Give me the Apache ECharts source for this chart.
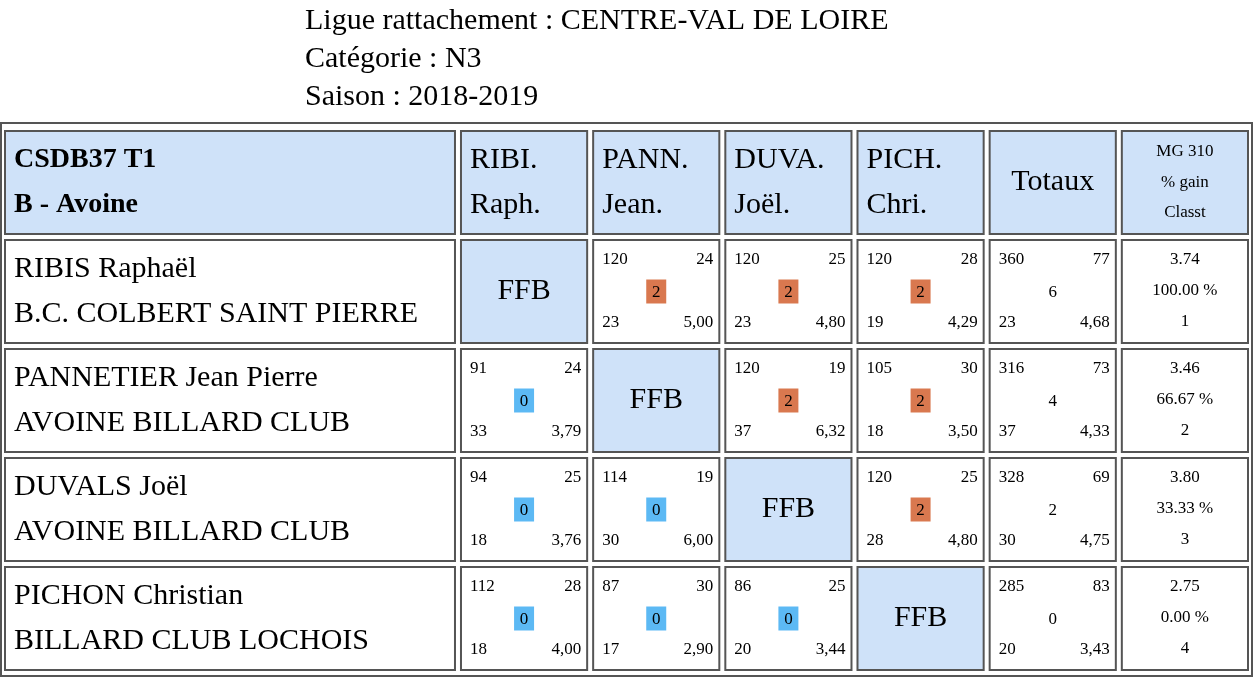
<!DOCTYPE html>
<html><head><meta charset="utf-8">
<script src="https://cdn.jsdelivr.net/npm/echarts@6/dist/echarts.min.js"></script>
<style>html,body{margin:0;background:#fff}#c{width:1253px;height:677px}</style>
</head><body><div id="c"></div>
<script>
const titleLines = ["Ligue rattachement : CENTRE-VAL DE LOIRE","Catégorie : N3","Saison : 2018-2019"];
const teamHeader = ["CSDB37 T1","B - Avoine"];
const abbrTop = ["RIBI.","PANN.","DUVA.","PICH."];
const abbrBottom = ["Raph.","Jean.","Joël.","Chri."];
const players = ["RIBIS Raphaël","PANNETIER Jean Pierre","DUVALS Joël","PICHON Christian"];
const clubs = ["B.C. COLBERT SAINT PIERRE","AVOINE BILLARD CLUB","AVOINE BILLARD CLUB","BILLARD CLUB LOCHOIS"];
// [points, innings, result, best series, average] ; null = FFB
const matches = [
 [null,[120,24,2,23,"5,00"],[120,25,2,23,"4,80"],[120,28,2,19,"4,29"]],
 [[91,24,0,33,"3,79"],null,[120,19,2,37,"6,32"],[105,30,2,18,"3,50"]],
 [[94,25,0,18,"3,76"],[114,19,0,30,"6,00"],null,[120,25,2,28,"4,80"]],
 [[112,28,0,18,"4,00"],[87,30,0,17,"2,90"],[86,25,0,20,"3,44"],null]
];
const totals = [[360,77,6,23,"4,68"],[316,73,4,37,"4,33"],[328,69,2,30,"4,75"],[285,83,0,20,"3,43"]];
const mgValues = ["3.74","3.46","3.80","2.75"];
const gainPct = ["100.00 %","66.67 %","33.33 %","0.00 %"];
const ranks = ["1","2","3","4"];
const mgHeader = ["MG 310","% gain","Classt"];

const colStart=[0,3.45,4.45,5.45,6.45,7.45,8.45], colEnd=[3.45,4.45,5.45,6.45,7.45,8.45,9.45];
const cells=[];
for(let r=0;r<5;r++)for(let c=0;c<7;c++)cells.push([colStart[c],colEnd[c],r,r+1,c]);
const F='"Liberation Serif","DejaVu Serif",serif';
const HBG='#cfe2f9', BOR='#555';
function txt(x,y,t,size,align,bold){return {type:'text',style:{x:x,y:y,text:String(t),fontFamily:F,fontSize:size,fontWeight:bold?'bold':'normal',fill:'#000',align:align||'left',verticalAlign:'middle'}};}
const B=32,S=17;
function renderItem(params,api){
  const p0=api.coord([api.value(0),api.value(2)]), p1=api.coord([api.value(1),api.value(3)]);
  const c=api.value(4), r=api.value(2);
  const x=p0[0]+3,y=p0[1]+3,w=p1[0]-p0[0]-6,h=p1[1]-p0[1]-6;
  const cx=x+w/2, cy=y+h/2;
  const ch=[];
  let bg='#fff';
  if(r===0){ bg=HBG;
    if(c===0){ch.push(txt(x+9,y+29,teamHeader[0],B-4,'left',true),txt(x+9,y+74,teamHeader[1],B-4,'left',true));}
    else if(c<=4){ch.push(txt(x+9,y+29,abbrTop[c-1],B-2),txt(x+9,y+74,abbrBottom[c-1],B-2));}
    else if(c===5){ch.push(txt(cx,cy,'Totaux',B-2,'center'));}
    else {ch.push(txt(cx,y+21,mgHeader[0],S,'center'),txt(cx,y+52,mgHeader[1],S,'center'),txt(cx,y+82,mgHeader[2],S,'center'));}
  } else {
    const i=r-1;
    if(c===0){ch.push(txt(x+9,y+29,players[i],B-2),txt(x+9,y+74,clubs[i],B-2));}
    else if(c<=5){
      const m = c===5?totals[i]:matches[i][c-1];
      if(!m){bg=HBG;ch.push(txt(cx,cy,'FFB',B-2,'center'));}
      else{
        ch.push(txt(x+9,y+20,m[0],S),txt(x+w-6,y+20,m[1],S,'right'),txt(x+9,y+83,m[3],S),txt(x+w-6,y+83,m[4],S,'right'));
        if(c<5){ch.push({type:'rect',shape:{x:cx-10,y:cy-12,width:20,height:24},style:{fill:m[2]>0?'#d9784f':'#5cb9f4'}});}
        ch.push(txt(cx,cy+1,m[2],S,'center'));
      }
    } else {ch.push(txt(cx,y+20,mgValues[i],S,'center'),txt(cx,y+51,gainPct[i],S,'center'),txt(cx,y+82,ranks[i],S,'center'));}
  }
  ch.unshift({type:'rect',shape:{x:x,y:y,width:w,height:h},style:{fill:bg,stroke:BOR,lineWidth:2}});
  return {type:'group',children:ch};
}
const chart=echarts.init(document.getElementById('c'),null,{renderer:'canvas'});
chart.setOption({
  animation:false,
  graphic:[
    {type:'group',left:305,top:6,children:titleLines.map((t,k)=>({type:'text',style:{x:0,y:k*38,text:t,fontFamily:F,fontSize:30,fill:'#000'}}))},
    {type:'rect',shape:{x:1,y:123,width:1251,height:553},style:{fill:'none',stroke:BOR,lineWidth:2},z:-1}
  ],
  grid:{left:2,right:2,top:128,bottom:4},
  xAxis:{type:'value',min:0,max:9.45,show:false},
  yAxis:{type:'value',min:0,max:5,inverse:true,show:false},
  series:[{type:'custom',renderItem:renderItem,data:cells,silent:true}]
});
</script></body></html>
